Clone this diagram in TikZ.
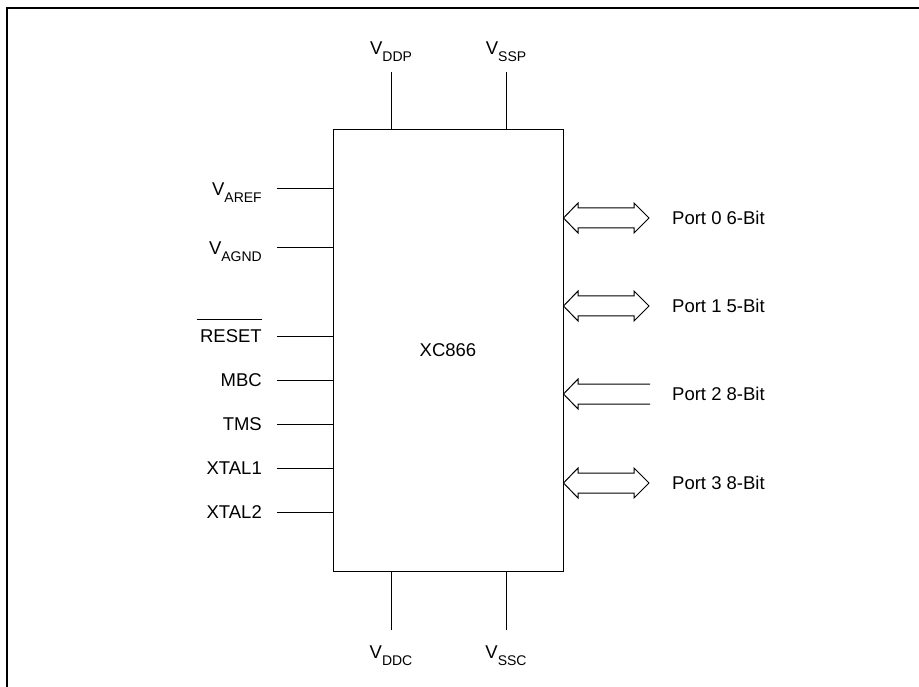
\documentclass[tikz,border=0pt]{standalone}
\usepackage{fontspec}
\setmainfont{Liberation Sans}
\usetikzlibrary{positioning}

\newcommand{\vsub}[1]{V\raisebox{-7pt}{\fontsize{14}{14}\selectfont #1}}

\tikzset{
	pinline/.style={line width=1pt},
	chip/.style={draw, line width=1pt, minimum width=230pt, minimum height=441pt, inner sep=0pt},
	pinlbl/.style={inner sep=0pt, font=\fontsize{18.5}{20}\selectfont},
	portarrow/.style={draw, line width=1pt, line join=miter},
}

\begin{document}
\begin{tikzpicture}[x=1pt, y=-1pt]
	\useasboundingbox (0,0) rectangle (919,687);
	% Frame
	\draw[line width=1.5pt] (7,687) -- (7,8) -- (919,8);
	% Chip
	\node[chip, pinlbl] (chip) at (448,350.5) {XC866};
	% Supply pins
	\foreach \n/\x/\t in {ddp/391/DDP, ssp/506/SSP} {
		\coordinate (\n) at (\x,72);
		\draw[pinline] (\n) -- (\n |- chip.north);
		\node[pinlbl, anchor=base] (l\n) at ([yshift=17pt]\n) {\vsub{\t}};
	}
	\foreach \n/\x/\t in {ddc/391/DDC, ssc/506/SSC} {
		\coordinate (\n) at (\x,630);
		\draw[pinline] (\n) -- (\n |- chip.south);
		\node[pinlbl, anchor=base] (l\n) at ([yshift=-28pt]\n) {\vsub{\t}};
	}
	% Left pins
	\foreach \n/\y/\t in {aref/189/{\vsub{AREF}}, agnd/248/{\vsub{AGND}}, mbc/380/MBC,
		tms/424/TMS, xtal1/468/XTAL1, xtal2/512/XTAL2} {
		\coordinate (\n) at (277,\y);
		\draw[pinline] (\n) -- (\n -| chip.west);
		\node[pinlbl, anchor=base east] (l\n) at ([xshift=-15pt,yshift=-6.5pt]\n) {\t};
	}
	\coordinate (rst) at (277,336);
	\draw[pinline] (rst) -- (rst -| chip.west);
	\node[pinlbl, anchor=base east] (lrst) at ([xshift=-15pt,yshift=-6.5pt]rst) {RESET};
	\draw[pinline] ([xshift=-3pt,yshift=10pt]lrst.north west) -- ([yshift=10pt]lrst.north east);
	% Ports
	\foreach \n/\y/\t in {p0/218/{Port 0 6-Bit}, p1/306/{Port 1 5-Bit}, p3/483/{Port 3 8-Bit}} {
		\coordinate (\n) at (649,\y);
		\draw[portarrow] (\n -| chip.east) -- (578,\y-15) -- (578,\y-10) -- (634,\y-10) -- (634,\y-15)
			-- (\n) -- (634,\y+15) -- (634,\y+10) -- (578,\y+10) -- (578,\y+15) -- cycle;
		\node[pinlbl, anchor=base west] (l\n) at ([xshift=23pt,yshift=-6.5pt]\n) {\t};
	}
	\coordinate (p2) at (650,394);
	\draw[portarrow] (650,384) -- (578,384) -- (578,379) -- (p2 -| chip.east) -- (578,409) -- (578,404) -- (650,404);
	\node[pinlbl, anchor=base west] (lp2) at ([xshift=22pt,yshift=-6.5pt]p2) {Port 2 8-Bit};
\end{tikzpicture}
\end{document}
